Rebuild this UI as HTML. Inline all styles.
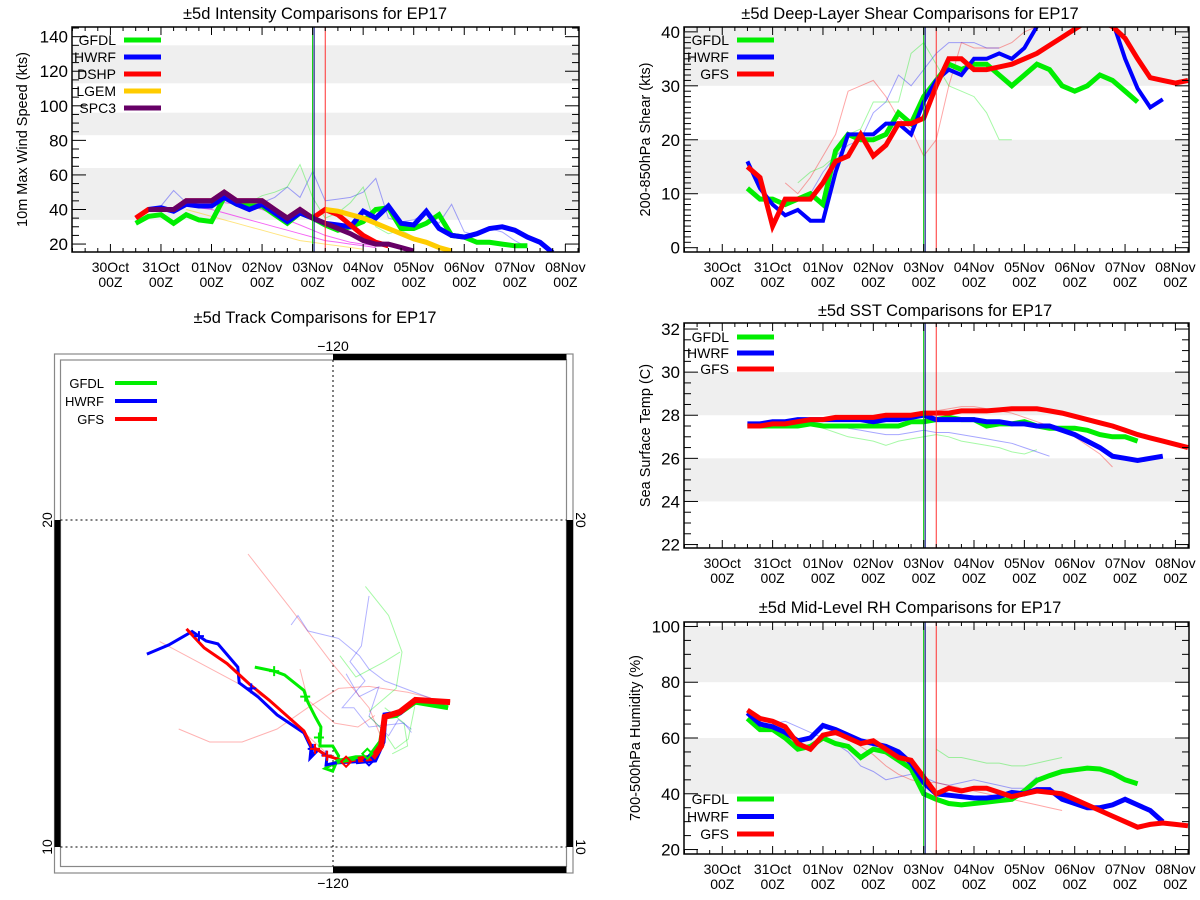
<!DOCTYPE html>
<html><head><meta charset="utf-8"><style>
html,body{margin:0;padding:0;background:#fff;}
svg{display:block;font-family:"Liberation Sans",sans-serif;}
</style></head><body>
<svg id="root" width="1200" height="900" viewBox="0 0 1200 900" xmlns="http://www.w3.org/2000/svg"></svg>
<script>
// ---------- data (6-hourly, index 0 = 30Oct 12Z) ----------
const dateLabels = ["30Oct","31Oct","01Nov","02Nov","03Nov","04Nov","05Nov","06Nov","07Nov","08Nov"];
const intGFDL = [32,36,37,32,37,34,33,47,43,42,42,37,32,38,35,31,28,30,33,40,41,29,29,32,37,25,24,21,21,20,19,19];
const intHWRF = [40,41,39,43,42,42,47,43,40,43,38,33,38,35,32,31,30,39,35,42,32,31,39,29,25,24,26,29,30,28,24,21,15];
const intDSHP = [35,40,40,40,45,45,45,50,45,45,45,40,35,40,35,40,37,31,25,21,19];
const intLGEM = [40,39,37,35,32,29,26,23,21,18,16];
const intSPC3 = [40,40,40,45,45,45,50,45,45,45,40,35,40,35,32,29,26,22,20,20,18,16];
const intThinBlue = [42,51,44,42,43,45,46,42,44,47,53,47,62,45,46,47,50,58,35,33,34,38,32,43,27,25,29,27,22,18];
const intThinGreen = [42,44,48,50,53,66,47,35,38,44,53,30,26,28,24,22];
const intThinPink1 = [42,41,40,38,36,34,32,30,28,26,24,22,21,20,19,18];
const intThinPink2 = [44,43,42,40,37,34,31,28,25,23,21,20,19];
const intThinOrange = [40,38,36,34,32,30,28,26,24,22,21,20,19,18,17];

const shrGFDL = [11,9,9,8,9,10,8,18,21,20,20,21,25,23,28,31,34,33,34,34,32,30,32,34,33,30,29,30,32,31,29,27];
const shrHWRF = [16,11,8,6,7,5,5,14,21,21,21,23,23,21,27,31,33,32,35,35,36,35,37,41,44,45,46,46,44,42,35,29.5,26,27.5];
const shrGFS  = [15,13,4,9,9,9,12,16,17,21,17,19,23,23,24,30,35,35,33,33,33.5,34,35,36,37.5,39,40.5,42,42,41,38.8,35,31.5,31,30.5,31];
const shrThinRed = [12,10,13,17,21,29,30,31,28,24,22,17,20,30,38,37,37,37,38,40,41];
const shrThinBlue = [9,10,14,17,19,20,25,27,32,30,33,36,38,38,38,37,37];
const shrThinGreen = [12,14,15,17,21,22,27,27,27,36,38,34,30,29,28,25,20,20];

const sstGFDL = [27.5,27.5,27.5,27.5,27.5,27.6,27.5,27.5,27.5,27.5,27.5,27.5,27.5,27.7,27.7,27.8,27.9,27.8,27.8,27.5,27.6,27.6,27.7,27.5,27.4,27.4,27.4,27.3,27.1,27.0,27.0,26.8];
const sstHWRF = [27.6,27.6,27.7,27.7,27.8,27.8,27.8,27.8,27.8,27.8,27.7,27.8,27.8,27.9,28.0,27.8,27.8,27.8,27.8,27.7,27.7,27.6,27.6,27.5,27.5,27.3,27.1,26.8,26.5,26.1,26.0,25.9,26.0,26.1];
const sstGFS  = [27.5,27.5,27.6,27.6,27.7,27.8,27.8,27.9,27.9,27.9,27.9,28.0,28.0,28.0,28.1,28.1,28.1,28.2,28.2,28.2,28.25,28.3,28.3,28.3,28.2,28.1,27.95,27.8,27.65,27.5,27.3,27.1,26.95,26.8,26.65,26.5];
const sstThinGreen = [27.4,27.2,27.0,26.9,26.8,26.6,26.8,26.9,27.0,27.1,27.0,26.8,26.7,26.6,26.5,26.3,26.2,26.4];
const sstThinBlue = [27.4,27.3,27.2,27.1,27.1,27.2,27.3,27.2,27.2,27.1,27.0,26.9,26.8,26.7,26.5,26.3,26.1];
const sstThinRed = [28.2,28.3,28.4,28.4,28.3,28.2,28.1,27.9,27.7,27.5,27.3,27.0,26.6,26.2,25.6];

const rhGFDL = [67,63,63,60,56,57,60,58,57,53,56,55,52,49,40,38,36.5,36,36.5,37,37.5,38,41,44.8,46.5,48,48.6,49.2,48.9,47.4,45,43.6];
const rhHWRF = [69,65,64,62,59,60,64.5,63,61,59,58,57,55,51,44,40,39.5,39,38.5,38.5,39,40.5,40,41.5,41.5,38,36.5,35,35,36,38,36,34,30];
const rhGFS  = [70,67,66,64,58,56,61,62,60,58,59,56,53,52,46,40,42,41,42,42,40.5,39,40,41,40.5,40,38,36,34,32,30,28,29,29.5,29,28.5];
const rhThinGreen = [56,53,53,52,51,51,50,50,51,52,53];
const rhThinBlue = [65,66,64,62,60,58,55,50,48,45,46,47,46,44,43,44,45,44,43,42,42,46];
const rhThinRed = [61,61,60,57,54,50,47,45,44,44,43,42,41,40,39,38,37,36,35,34];

// track data (lon, lat)
const trkHWRFlon = [-125.69,-125.02,-124.31,-123.88,-123.52,-122.91,-122.87,-122.29,-121.71,-120.89,-120.67,-120.70,-120.46,-120.18,-120.21,-119.94,-119.30,-118.72,-118.47,-118.41,-117.95,-117.49,-116.48];
const trkHWRFlat = [15.90,16.18,16.59,16.30,16.21,15.50,15.02,14.59,14.04,13.49,13.03,12.72,12.97,12.78,12.51,12.57,12.61,12.66,13.21,14.04,14.10,14.50,14.43];
const trkGFSlon = [-124.48,-123.94,-123.24,-122.54,-121.96,-120.89,-120.66,-120.18,-119.60,-119.24,-118.78,-118.53,-118.42,-117.95,-117.48,-116.42];
const trkGFSlat = [16.67,16.09,15.61,14.97,14.50,13.55,13.09,12.79,12.61,12.67,12.73,13.09,13.98,14.13,14.50,14.43];
const trkGFDLlon = [-122.39,-121.80,-121.48,-120.89,-120.77,-120.54,-120.37,-120.40,-120.01,-119.83,-119.89,-120.01,-120.24,-119.89,-119.30,-118.90,-118.54,-118.42,-118.07,-117.48,-116.48];
const trkGFDLlat = [15.50,15.38,15.26,14.79,14.43,13.98,13.67,13.09,13.09,12.79,12.61,12.32,12.40,12.61,12.73,12.73,13.21,13.98,14.02,14.43,14.26];
const thinTrkRed1lon = [-122.60,-121.3,-120.07,-118.90,-118.42], thinTrkRed1lat = [18.96,17.3,15.67,14.26,13.09];
const thinTrkRed2lon = [-125.30,-121.96,-120.18], thinTrkRed2lat = [16.28,14.50,12.85];
const thinTrkRed3lon = [-124.72,-123.77,-122.78,-121.71,-120.77,-119.83,-118.90,-117.72,-117.01], thinTrkRed3lat = [13.61,13.21,13.21,13.61,14.26,14.85,14.91,14.73,14.56];
const thinTrkRed4lon = [-121.01,-120.77,-119.95,-119.24,-118.72], thinTrkRed4lat = [15.44,14.50,13.79,13.67,14.02];
const thinTrkBlue1lon = [-121.28,-121.07,-120.77,-119.83,-119.19,-118.90,-118.42,-116.89], thinTrkBlue1lat = [16.79,17.08,16.61,16.38,15.85,15.44,15.08,14.50];
const thinTrkBlue2lon = [-118.90,-119.13,-119.48,-119.02,-119.72,-119.36,-118.90,-117.83,-117.6], thinTrkBlue2lat = [17.68,16.15,15.67,15.08,14.26,14.26,13.67,13.79,13.5];
const thinTrkBlue3lon = [-119.6,-119.2,-118.6,-118.9,-118.3,-118.0,-117.6], thinTrkBlue3lat = [15.3,14.6,14.9,14.0,13.4,13.9,13.6];
const thinTrkGreen1lon = [-119.01,-118.30,-117.89,-118.07,-118.90], thinTrkGreen1lat = [17.97,17.08,15.96,14.85,14.14];
const thinTrkGreen2lon = [-119.79,-119.30,-118.42,-117.95], thinTrkGreen2lat = [15.85,15.20,15.67,15.96];
const thinTrkGreen3lon = [-118.19,-117.72,-117.83,-118.42], thinTrkGreen3lat = [12.85,13.09,13.79,14.26];
const thinTrkGreen4lon = [-118.9,-118.5,-118.1,-117.7,-117.5], thinTrkGreen4lat = [14.0,13.6,13.0,13.3,14.3];

// ---------- helpers ----------
const NS = "http://www.w3.org/2000/svg";
const root = document.getElementById("root");
function el(tag, attrs, parent, text) {
  const e = document.createElementNS(NS, tag);
  for (const k in attrs) e.setAttribute(k, attrs[k]);
  if (text !== undefined) e.textContent = text;
  (parent || root).appendChild(e);
  return e;
}
const DMIN = -0.76, DMAX = 9.27;
const C = {green:"#00ee00", blue:"#0000ff", red:"#ff0000", orange:"#ffcc00", purple:"#660066"};

function panel(p) {
  const g = el("g", {}, root);
  
  
  const xs = d => p.x0 + (d - DMIN) * (p.x1 - p.x0) / (DMAX - DMIN);
  const ys = v => p.y1 - (v - p.ymin) * (p.y1 - p.y0) / (p.ymax - p.ymin);
  const cid = "clip-" + p.name;
  const cp = el("clipPath", {id: cid}, g);
  el("rect", {x: p.x0, y: p.y0, width: p.x1 - p.x0, height: p.y1 - p.y0}, cp);
  p.bands.forEach(b => {
    const r = el("rect", {x: p.x0, y: ys(Math.min(b[1], p.ymax)), width: p.x1 - p.x0, height: ys(b[0]) - ys(Math.min(b[1], p.ymax)), fill: "#efefef"}, g);
    
    
  });
  const t = el("text", {x: p.tx, y: p.ty, "text-anchor": "middle", "font-size": 16.5, fill: "#000"}, g, p.title);
  
  
  const ylx = p.ylx, yly = (p.y0 + p.y1) / 2;
  const yl = el("text", {x: ylx, y: yly, "text-anchor": "middle", "font-size": 14.5, transform: `rotate(-90 ${ylx} ${yly})`}, g, p.ylabel);
  
  
  const series = el("g", {"clip-path": `url(#${cid})`}, g);
  p.thin.forEach(s => {
    const pts = s.vals.map((v, i) => xs(0.5 + 0.25 * (s.start + i)).toFixed(1) + "," + ys(v).toFixed(1)).join(" ");
    const l = el("polyline", {points: pts, fill: "none", stroke: s.color, "stroke-width": 1, "stroke-opacity": s.op || 0.35}, series);
    
    
  });
  p.series.forEach(s => {
    const pts = s.vals.map((v, i) => xs(0.5 + 0.25 * (s.start + i)).toFixed(1) + "," + ys(v).toFixed(1)).join(" ");
    const l = el("polyline", {points: pts, fill: "none", stroke: s.color, "stroke-width": s.w || 5, "stroke-linejoin": "miter"}, series);
    
    
  });
  [[4.0, "#00cc00"], [4.03, "#000080"], [4.25, "#ff3030"]].forEach(v => {
    const l = el("line", {x1: xs(v[0]), x2: xs(v[0]), y1: p.y0, y2: p.y1, stroke: v[1], "stroke-width": 1}, g);
    
    
  });
  el("rect", {x: p.x0, y: p.y0, width: p.x1 - p.x0, height: p.y1 - p.y0, fill: "none", stroke: "#000", "stroke-width": 1.5}, g);
  for (let q = Math.ceil(DMIN * 4); q <= DMAX * 4; q++) {
    const d = q / 4, x = xs(d), L = (q % 4 === 0) ? 8 : 4;
    el("line", {x1: x, x2: x, y1: p.y1, y2: p.y1 - L, stroke: "#000", "stroke-width": 1}, g);
    el("line", {x1: x, x2: x, y1: p.y0, y2: p.y0 + L, stroke: "#000", "stroke-width": 1}, g);
  }
  dateLabels.forEach((lab, i) => {
    const x = xs(i);
    const a = el("text", {x: x, y: p.y1 + 20, "text-anchor": "middle", "font-size": 14}, g, lab);
    
    
    const b = el("text", {x: x, y: p.y1 + 35, "text-anchor": "middle", "font-size": 14}, g, "00Z");
    
    
  });
  const n0 = Math.ceil(p.ymin / p.ymn - 1e-6), n1 = Math.floor(p.ymax / p.ymn + 1e-6);
  for (let k = n0; k <= n1; k++) {
    const v = k * p.ymn, y = ys(v);
    const major = Math.abs(v / p.ymj - Math.round(v / p.ymj)) < 1e-6;
    const L = major ? 14 : 7;
    el("line", {x1: p.x0, x2: p.x0 + L, y1: y, y2: y, stroke: "#000", "stroke-width": 1}, g);
    el("line", {x1: p.x1, x2: p.x1 - L, y1: y, y2: y, stroke: "#000", "stroke-width": 1}, g);
    if (major) {
      const tl = el("text", {x: p.x0 - 4, y: y + 6, "text-anchor": "end", "font-size": 17}, g, String(v));
      
      
    }
  }
  p.series.forEach((s, i) => {
    const ly = p.ly + i * p.ldy;
    const lt = el("text", {x: p.lx, y: ly + 5, "text-anchor": "end", "font-size": 14}, g, s.label);
    
    
    const ll = el("line", {x1: p.lx + 8, x2: p.lx + 45, y1: ly, y2: ly, stroke: s.color, "stroke-width": 5}, g);
    
    
  });
}

panel({name: "intensity-panel", x0: 72, x1: 579, y0: 27, y1: 252, ymin: 15.4, ymax: 145.6, ymj: 20, ymn: 5,
  bands: [[34, 64], [83, 96], [113, 135]], title: "±5d Intensity Comparisons for EP17", tx: 315, ty: 19,
  ylabel: "10m Max Wind Speed (kts)", ylx: 27, lx: 116, ly: 40, ldy: 17,
  thin: [{vals: intThinBlue, start: 2, color: C.blue}, {vals: intThinGreen, start: 8, color: C.green},
         {vals: intThinPink1, start: 4, color: "#ee00ee", op: 0.6}, {vals: intThinPink2, start: 7, color: "#ee00ee", op: 0.6},
         {vals: intThinOrange, start: 4, color: C.orange, op: 0.5}],
  series: [{label: "GFDL", vals: intGFDL, start: 0, color: C.green}, {label: "HWRF", vals: intHWRF, start: 1, color: C.blue},
           {label: "DSHP", vals: intDSHP, start: 0, color: C.red}, {label: "LGEM", vals: intLGEM, start: 15, color: C.orange},
           {label: "SPC3", vals: intSPC3, start: 1, color: C.purple}]
});
panel({name: "shear-panel", x0: 684, x1: 1189, y0: 27, y1: 252, ymin: -0.8, ymax: 40.9, ymj: 10, ymn: 1,
  bands: [[10, 20], [30, 41]], title: "±5d Deep-Layer Shear Comparisons for EP17", tx: 910, ty: 19,
  ylabel: "200-850hPa Shear (kts)", ylx: 650, lx: 729, ly: 40, ldy: 17,
  thin: [{vals: shrThinRed, start: 3, color: C.red}, {vals: shrThinBlue, start: 4, color: C.blue}, {vals: shrThinGreen, start: 4, color: C.green}],
  series: [{label: "GFDL", vals: shrGFDL, start: 0, color: C.green}, {label: "HWRF", vals: shrHWRF, start: 0, color: C.blue, w: 4},
           {label: "GFS", vals: shrGFS, start: 0, color: C.red}]
});
panel({name: "sst-panel", x0: 684, x1: 1189, y0: 323, y1: 548, ymin: 21.84, ymax: 32.28, ymj: 2, ymn: 0.5,
  bands: [[24, 26], [28, 30]], title: "±5d SST Comparisons for EP17", tx: 935, ty: 316,
  ylabel: "Sea Surface Temp (C)", ylx: 650, lx: 729, ly: 337, ldy: 16,
  thin: [{vals: sstThinGreen, start: 6, color: C.green}, {vals: sstThinBlue, start: 8, color: C.blue}, {vals: sstThinRed, start: 15, color: C.red}],
  series: [{label: "GFDL", vals: sstGFDL, start: 0, color: C.green}, {label: "HWRF", vals: sstHWRF, start: 0, color: C.blue},
           {label: "GFS", vals: sstGFS, start: 0, color: C.red}]
});
panel({name: "rh-panel", x0: 684, x1: 1189, y0: 622, y1: 854, ymin: 18.4, ymax: 101.6, ymj: 20, ymn: 5,
  bands: [[40, 60], [80, 100]], title: "±5d Mid-Level RH Comparisons for EP17", tx: 910, ty: 613,
  ylabel: "700-500hPa Humidity (%)", ylx: 640, lx: 729, ly: 799, ldy: 17.5,
  thin: [{vals: rhThinGreen, start: 15, color: C.green}, {vals: rhThinBlue, start: 2, color: C.blue}, {vals: rhThinRed, start: 6, color: C.red}],
  series: [{label: "GFDL", vals: rhGFDL, start: 0, color: C.green}, {label: "HWRF", vals: rhHWRF, start: 0, color: C.blue},
           {label: "GFS", vals: rhGFS, start: 0, color: C.red}]
});

// ---------- track map ----------
(function () {
  const g = el("g", {}, root);
  
  
  const K = 32.7;
  const px = lon => 333 + (lon + 120) * K;
  const py = lat => 520 - (lat - 20) * K;
  const t = el("text", {x: 315, y: 323, "text-anchor": "middle", "font-size": 16.5}, g, "±5d Track Comparisons for EP17");
  
  
  el("rect", {x: 54.5, y: 354, width: 518.5, height: 519, fill: "none", stroke: "#888", "stroke-width": 1.2}, g);
  el("rect", {x: 60.5, y: 360, width: 506, height: 506.5, fill: "none", stroke: "#888", "stroke-width": 1.2}, g);
  el("rect", {x: px(-120), y: 354, width: 566.5 - px(-120), height: 6, fill: "#000"}, g);
  el("rect", {x: px(-120), y: 866.5, width: 566.5 - px(-120), height: 6.5, fill: "#000"}, g);
  el("rect", {x: 54.5, y: py(20), width: 6, height: py(10) - py(20), fill: "#000"}, g);
  el("rect", {x: 566.5, y: py(20), width: 6.5, height: py(10) - py(20), fill: "#000"}, g);
  el("line", {x1: px(-120), x2: px(-120), y1: 360, y2: 866.5, stroke: "#000", "stroke-width": 1, "stroke-dasharray": "2,3"}, g);
  [20, 10].forEach(lat => el("line", {x1: 60.5, x2: 566.5, y1: py(lat), y2: py(lat), stroke: "#000", "stroke-width": 1, "stroke-dasharray": "2,3"}, g));
  [[333, 351], [333, 888]].forEach(a => {
    const l = el("text", {x: a[0], y: a[1], "text-anchor": "middle", "font-size": 14}, g, "\u2212120");
    
    
  });
  [20, 10].forEach(lat => {
    const y = py(lat);
    const l1 = el("text", {x: 52, y: y, "text-anchor": "middle", "font-size": 14, transform: `rotate(-90 52 ${y})`}, g, String(lat));
    
    
    const l2 = el("text", {x: 576, y: y, "text-anchor": "middle", "font-size": 14, transform: `rotate(90 576 ${y})`}, g, String(lat));
    
    
  });
  function trk(lons, lats, color, w, op, name) {
    const pts = lons.map((lo, i) => px(lo).toFixed(1) + "," + py(lats[i]).toFixed(1)).join(" ");
    const l = el("polyline", {points: pts, fill: "none", stroke: color, "stroke-width": w, "stroke-opacity": op}, g);
    
    
  }
  trk(thinTrkRed1lon, thinTrkRed1lat, C.red, 1, 0.3, 'ensemble-track');
  trk(thinTrkRed2lon, thinTrkRed2lat, C.red, 1, 0.3, 'ensemble-track');
  trk(thinTrkRed3lon, thinTrkRed3lat, C.red, 1, 0.3, 'ensemble-track');
  trk(thinTrkRed4lon, thinTrkRed4lat, C.red, 1, 0.3, 'ensemble-track');
  trk(thinTrkBlue1lon, thinTrkBlue1lat, C.blue, 1, 0.3, 'ensemble-track');
  trk(thinTrkBlue2lon, thinTrkBlue2lat, C.blue, 1, 0.3, 'ensemble-track');
  trk(thinTrkBlue3lon, thinTrkBlue3lat, C.blue, 1, 0.3, 'ensemble-track');
  trk(thinTrkGreen1lon, thinTrkGreen1lat, C.green, 1, 0.35, 'ensemble-track');
  trk(thinTrkGreen2lon, thinTrkGreen2lat, C.green, 1, 0.35, 'ensemble-track');
  trk(thinTrkGreen3lon, thinTrkGreen3lat, C.green, 1, 0.35, 'ensemble-track');
  trk(thinTrkGreen4lon, thinTrkGreen4lat, C.green, 1, 0.35, 'ensemble-track');
  trk(trkGFDLlon, trkGFDLlat, C.green, 3, 1, 'track-gfdl');
  trk(trkHWRFlon, trkHWRFlat, C.blue, 3, 1, 'track-hwrf');
  trk(trkGFSlon, trkGFSlat, C.red, 3, 1, 'track-gfs');
  trk(trkGFDLlon.slice(-8), trkGFDLlat.slice(-8), C.green, 5, 1, 'track-gfdl-recent');
  trk(trkHWRFlon.slice(-7), trkHWRFlat.slice(-7), C.blue, 5, 1, 'track-hwrf-recent');
  trk(trkGFSlon.slice(-7), trkGFSlat.slice(-7), C.red, 6, 1, 'track-gfs-recent');
  function cross(lon, lat, color) {
    const x = px(lon), y = py(lat);
    el("path", {d: `M${x - 5},${y}H${x + 5}M${x},${y - 5}V${y + 5}`, stroke: color, "stroke-width": 2}, g);
  }
  function diamond(lon, lat, color) {
    const x = px(lon), y = py(lat);
    el("path", {d: `M${x},${y - 5}L${x + 5},${y}L${x},${y + 5}L${x - 5},${y}Z`, fill: "none", stroke: color, "stroke-width": 2}, g);
  }
  cross(-124.1, 16.45, C.blue); cross(-122.5, 14.85, C.blue); cross(-120.62, 13.0, C.blue); cross(-120.2, 12.8, C.blue);
  cross(-121.8, 15.38, C.green); cross(-120.85, 14.6, C.green); cross(-120.43, 13.35, C.green);
  cross(-120.55, 13.0, C.red); cross(-120.18, 12.79, C.red);
  diamond(-119.6, 12.61, C.red); diamond(-118.9, 12.65, C.blue); diamond(-118.95, 12.85, C.green);
  [["GFDL", C.green, 383], ["HWRF", C.blue, 401], ["GFS", C.red, 419]].forEach(a => {
    const lt = el("text", {x: 104, y: a[2] + 5, "text-anchor": "end", "font-size": 13}, g, a[0]);
    
    
    const ll = el("line", {x1: 115, x2: 157, y1: a[2], y2: a[2], stroke: a[1], "stroke-width": 4}, g);
    
    
  });
})();
</script>
</body></html>
